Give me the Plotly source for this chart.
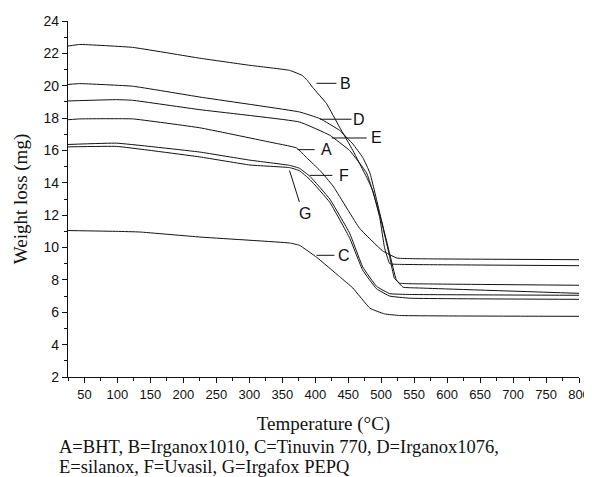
import plotly.graph_objects as go

# temperature (degC) / weight (mg)
temp_A = [25, 43, 123, 225, 327, 372, 387, 407, 427, 467, 502, 524, 573, 800]
wt_A = [17.9, 17.95, 17.95, 17.4, 16.55, 16.15, 15.55, 14.77, 13.8, 11.2, 9.8, 9.35, 9.3, 9.25]

temp_B = [25, 43, 123, 225, 301, 361, 380, 388, 396, 417, 437, 457, 478, 487, 498, 505, 513, 528, 573, 800]
wt_B = [22.45, 22.55, 22.37, 21.7, 21.26, 20.95, 20.64, 20.33, 19.9, 18.9, 17.43, 16.0, 14.34, 13.54, 11.8,
        10.0, 9.0, 8.96, 8.94, 8.88]

temp_C = [25, 99, 134, 225, 361, 376, 402, 437, 457, 483, 505, 528, 800]
wt_C = [11.05, 11.0, 10.96, 10.65, 10.28, 10.14, 9.4, 8.2, 7.5, 6.25, 5.9, 5.8, 5.75]

temp_D = [25, 43, 123, 225, 376, 407, 437, 457, 472, 483, 498, 513, 523, 533, 558, 800]
wt_D = [20.08, 20.13, 19.97, 19.3, 18.38, 17.97, 17.24, 16.4, 15.57, 14.6, 12.1, 9.6, 8.0, 7.55, 7.5, 7.17]

temp_E = [25, 99, 123, 225, 376, 422, 452, 478, 498, 513, 520, 528, 573, 800]
wt_E = [19.06, 19.14, 19.1, 18.52, 17.76, 16.94, 16.0, 14.6, 12.0, 9.4, 8.1, 7.8, 7.75, 7.67]

temp_FG = [25, 99, 225, 301, 361, 376, 392, 422, 452, 472, 493, 513, 543, 800]
wt_F = [16.37, 16.45, 15.9, 15.4, 15.08, 14.9, 14.4, 13.0, 10.9, 8.8, 7.6, 7.15, 7.1, 7.05]
wt_G = [16.22, 16.25, 15.6, 15.1, 14.94, 14.75, 14.2, 12.8, 10.6, 8.6, 7.45, 7.0, 6.87, 6.8]

curves = {
    'A': (temp_A, wt_A), 'B': (temp_B, wt_B), 'C': (temp_C, wt_C), 'D': (temp_D, wt_D),
    'E': (temp_E, wt_E), 'F': (temp_FG, wt_F), 'G': (temp_FG, wt_G),
}

# label text position and leader line (x0, y0, x1, y1)
label_pos = {
    'A': (417, 16.05, 373, 16.05, 399, 16.05),
    'B': (446, 20.15, 402, 20.15, 432, 20.15),
    'C': (443, 9.52, 402, 9.52, 429, 9.52),
    'D': (467, 17.93, 407, 17.93, 455, 17.93),
    'E': (493, 16.77, 425, 16.77, 478, 16.77),
    'F': (443, 14.46, 392, 14.46, 426, 14.46),
    'G': (384, 12.1, 361, 14.76, 376, 12.81),
}

caption = ["A=BHT, B=Irganox1010, C=Tinuvin 770, D=Irganox1076,",
           "E=silanox, F=Uvasil, G=Irgafox PEPQ"]

fig = go.Figure()
for name, (t, w) in curves.items():
    fig.add_trace(go.Scatter(x=t, y=w, mode='lines', name=name,
                             line=dict(color='#111', width=1, shape='spline', smoothing=0.3),
                             showlegend=False, hoverinfo='skip'))

for name, (tx, ty, x0, y0, x1, y1) in label_pos.items():
    fig.add_shape(type='line', x0=x0, y0=y0, x1=x1, y1=y1, line=dict(color='#111', width=1))
    fig.add_annotation(x=tx, y=ty, text=name, showarrow=False,
                       font=dict(family='Liberation Sans', size=16, color='#111'))

axis_common = dict(showline=True, linecolor='#111', linewidth=1.2, showgrid=False, zeroline=False,
                   ticklen=5, tickwidth=1, tickcolor='#111', automargin=False)
fig.update_xaxes(range=[25, 800], tickmode='linear', tick0=50, dtick=50, ticks='outside',
                 minor=dict(ticks='outside', ticklen=3, tickcolor='#111', dtick=25, tick0=25),
                 tickfont=dict(family='Liberation Sans', size=13, color='#111'),
                 title=dict(text='Temperature (°C)', font=dict(family='Liberation Serif', size=19, color='#111'),
                            standoff=15),
                 **axis_common)
fig.update_yaxes(range=[2, 24], tickmode='linear', tick0=2, dtick=2, ticks='outside',
                 minor=dict(ticks='outside', ticklen=3, tickcolor='#111', dtick=1),
                 tickfont=dict(family='Liberation Sans', size=14, color='#111'),
                 title=dict(text='Weight loss (mg)', font=dict(family='Liberation Serif', size=19, color='#111'),
                            standoff=10),
                 **axis_common)

fig.update_layout(
    xaxis2=dict(overlaying='x', side='top', range=[25, 800], tickmode='linear', tick0=50, dtick=50,
                ticks='inside', showticklabels=False,
                minor=dict(ticks='inside', ticklen=3, tickcolor='#111', dtick=25, tick0=25), **axis_common),
    yaxis2=dict(overlaying='y', side='right', range=[2, 24], tickmode='linear', tick0=2, dtick=2,
                ticks='inside', showticklabels=False,
                minor=dict(ticks='inside', ticklen=3, tickcolor='#111', dtick=1), **axis_common),
)

for i, line in enumerate(caption):
    fig.add_annotation(xref='paper', yref='paper', x=-0.022, y=-0.197 - i * 0.056, text=line,
                       showarrow=False, xanchor='left', yanchor='middle',
                       font=dict(family='Liberation Serif', size=18.5, color='#111'))

# page body keeps its default 8px margin, so the figure is 8px smaller than the window
fig.update_layout(width=584, height=469, margin=dict(l=60, r=13, t=13, b=100),
                  plot_bgcolor='white', paper_bgcolor='white')
fig.write_html("out.html")
